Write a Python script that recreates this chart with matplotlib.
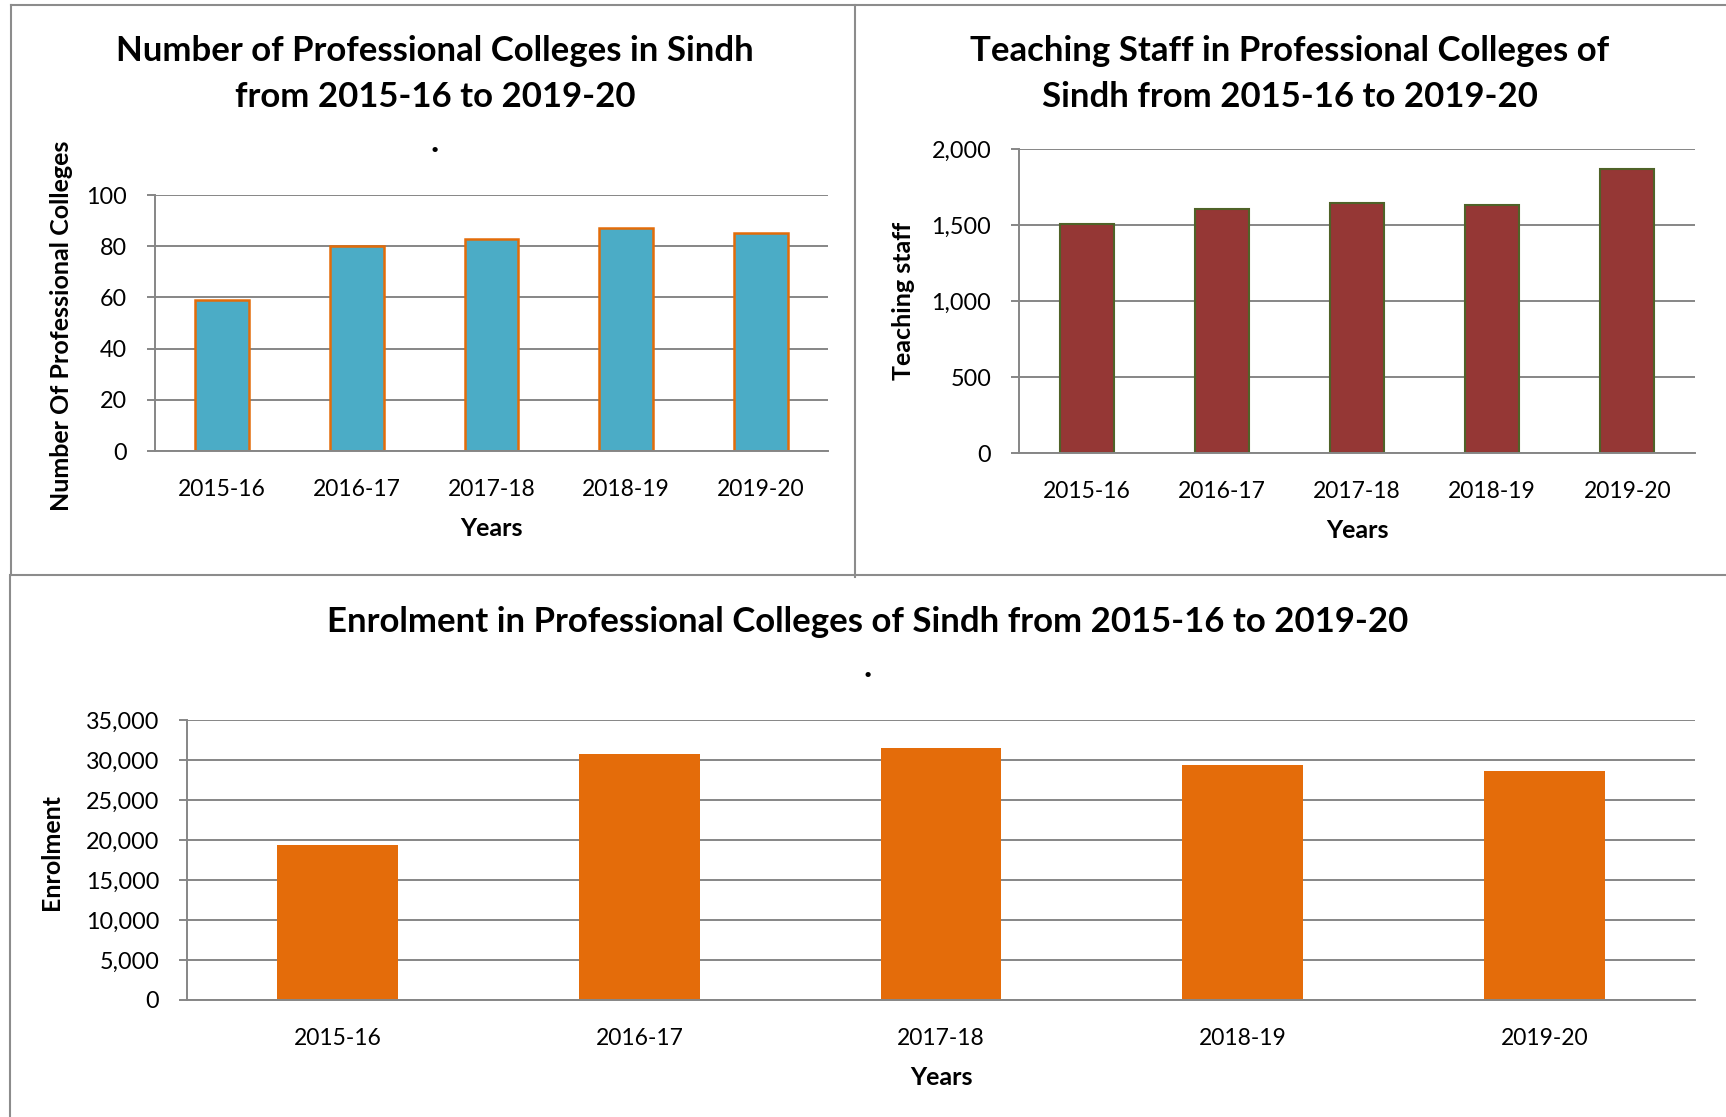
import matplotlib.pyplot as plt
from matplotlib.ticker import FuncFormatter
from matplotlib.lines import Line2D
import numpy as np

plt.rcParams['font.family'] = ['Lato', 'DejaVu Sans']

# data
years = ["2015-16", "2016-17", "2017-18", "2018-19", "2019-20"]
colleges = [59, 80, 83, 87, 85]
teaching_staff = [1507, 1607, 1647, 1632, 1871]
enrolment = [19364, 30780, 31530, 29316, 28646]

W, H = 1726, 1117
fig = plt.figure(figsize=(W / 100, H / 100), dpi=100)


def px_axes(x0, y0, x1, y1):
    # pixel box (top-left origin) -> figure axes
    return fig.add_axes([x0 / W, 1 - y1 / H, (x1 - x0) / W, (y1 - y0) / H])


def px_text(x, y, s, **kw):
    fig.text(x / W, 1 - y / H, s, ha="center", va="center", **kw)


def px_line(xs, ys):
    fig.add_artist(Line2D([x / W for x in xs], [1 - y / H for y in ys],
                          color="#8c8c8c", lw=1.5))


grid_col = "#868686"
comma = FuncFormatter(lambda v, p: f"{int(v):,}")


def style(ax, ymax, step, ylabel, ylab_xy, xlab_y):
    x = np.arange(len(years))
    ax.set_xlim(-0.5, len(years) - 0.5)
    ax.set_ylim(0, ymax)
    ax.set_yticks(np.arange(0, ymax + 1, step))
    ax.yaxis.set_major_formatter(comma)
    ax.set_xticks(x)
    ax.set_xticklabels(years)
    ax.grid(axis="y", color=grid_col, lw=1.4)
    ax.set_axisbelow(True)
    for s in ["top", "right"]:
        ax.spines[s].set_visible(False)
    for s in ["left", "bottom"]:
        ax.spines[s].set_color(grid_col)
        ax.spines[s].set_linewidth(1.4)
    ax.tick_params(axis="y", length=6, width=1.4, color=grid_col, labelsize=16.8, pad=14)
    ax.tick_params(axis="x", length=0, labelsize=16.5, pad=20)
    ax.set_ylabel(ylabel, fontsize=18, fontweight="bold")
    ax.yaxis.set_label_coords(*ylab_xy)
    ax.set_xlabel("Years", fontsize=18, fontweight="bold")
    ax.xaxis.set_label_coords(0.5, xlab_y)
    return x


# panel borders
px_line([11, 1726], [5, 5])
px_line([11, 11], [5, 575])
px_line([855, 855], [5, 577])
px_line([11, 1726], [575, 575])
px_line([10, 10], [575, 1117])

# top-left: number of colleges
ax1 = px_axes(155, 195, 828, 451)
x = style(ax1, 100, 20, "Number Of Professional Colleges", (-0.122, 0.49), -0.258)
ax1.bar(x, colleges, 0.4, color="#4BACC6", edgecolor="#E36C09", linewidth=1.8)
px_text(435, 74, "Number of Professional Colleges in Sindh\nfrom 2015-16 to 2019-20",
        fontsize=25, fontweight="bold", linespacing=1.52)
px_text(435, 142, ".", fontsize=25, fontweight="bold")

# top-right: teaching staff
ax2 = px_axes(1019, 149, 1695, 453)
x = style(ax2, 2000, 500, "Teaching staff", (-0.154, 0.5), -0.218)
ax2.bar(x, teaching_staff, 0.4, color="#953735", edgecolor="#4F6228", linewidth=1.5)
px_text(1290, 74, "Teaching Staff in Professional Colleges of\nSindh from 2015-16 to 2019-20",
        fontsize=25, fontweight="bold", linespacing=1.52)

# bottom: enrolment
ax3 = px_axes(187, 720, 1695, 1000)
x = style(ax3, 35000, 5000, "Enrolment", (-0.0824, 0.53), -0.234)
ax3.bar(x, enrolment, 0.4, color="#E46C0A")
px_text(868, 622, "Enrolment in Professional Colleges of Sindh from 2015-16 to 2019-20",
        fontsize=25, fontweight="bold")
px_text(868, 667, ".", fontsize=25, fontweight="bold")

fig.savefig("out.png", dpi=100)
